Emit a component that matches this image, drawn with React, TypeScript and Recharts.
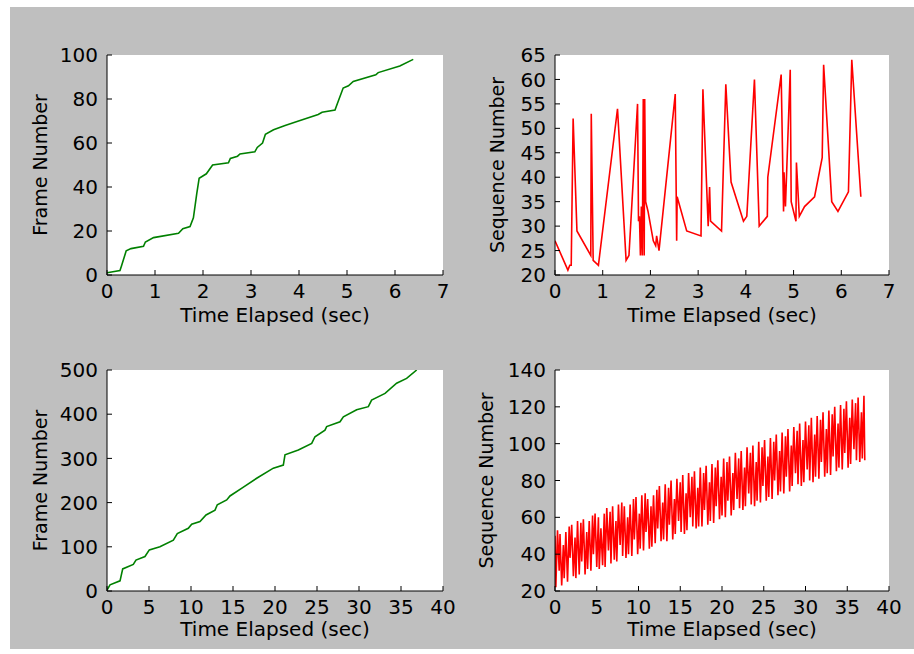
import { CartesianGrid, Line, LineChart, XAxis, YAxis } from "recharts";

// 100 samples: time of arrival (sec) vs frame number
const frame100Time = [0, 0.27, 0.3, 0.4, 0.5, 0.76, 0.8, 0.97, 1.49, 1.58, 1.73, 1.8, 1.87, 1.92, 2.07, 2.2, 2.53, 2.57, 2.72, 2.77, 3.08, 3.13, 3.24, 3.3, 3.47, 3.71, 3.99, 4.4, 4.48, 4.75, 4.8, 4.92, 5.03, 5.13, 5.6, 5.65, 6.1, 6.38];
const frame100Value = [1, 2, 4, 11, 12, 13, 15, 17, 19, 21, 22, 26, 37, 44, 46, 50, 51, 53, 54, 55, 56, 58, 60, 64, 66, 68, 70, 73, 74, 75, 78, 85, 86, 88, 91, 92, 95, 98];

// 100 samples: time vs sequence number
const seq100Time = [0, 0.27, 0.31, 0.34, 0.38, 0.46, 0.75, 0.76, 0.8, 0.91, 1.31, 1.49, 1.55, 1.73, 1.75, 1.77, 1.79, 1.81, 1.83, 1.85, 1.87, 1.88, 1.9, 1.95, 2.06, 2.11, 2.13, 2.18, 2.52, 2.55, 2.56, 2.76, 3.06, 3.1, 3.21, 3.24, 3.26, 3.49, 3.58, 3.69, 3.95, 4.02, 4.18, 4.28, 4.45, 4.46, 4.74, 4.79, 4.8, 4.83, 4.93, 4.95, 5.05, 5.06, 5.12, 5.23, 5.44, 5.6, 5.63, 5.8, 5.93, 6.15, 6.22, 6.41];
const seq100Value = [27, 21, 22, 22, 52, 29, 24, 53, 23, 22, 54, 23, 24, 55, 31, 32, 24, 34, 24, 56, 24, 56, 35, 33, 27, 26, 28, 25, 57, 27, 36, 29, 28, 58, 30, 38, 31, 29, 59, 39, 31, 32, 60, 30, 32, 40, 61, 33, 41, 34, 62, 35, 31, 43, 32, 34, 36, 44, 63, 35, 33, 37, 64, 36];

// 500 samples: time vs frame number
const frame500Time = [0, 0.36, 1.55, 1.87, 3.13, 3.45, 4.52, 5.04, 6.3, 7.9, 8.37, 9.68, 10.08, 11.07, 11.79, 12.86, 13.13, 14.25, 14.64, 16.15, 17.82, 19.8, 20.99, 21.19, 22.78, 24.37, 24.76, 25.95, 26.15, 27.74, 28.14, 29.72, 31.11, 31.5, 33.1, 34.48, 35.67, 36.87];
const frame500Value = [2, 14, 23, 50, 60, 70, 78, 93, 100, 115, 130, 142, 151, 157, 172, 183, 195, 206, 215, 234, 255, 278, 285, 308, 319, 334, 349, 364, 372, 383, 394, 410, 417, 432, 447, 470, 481, 500];

// 500 samples: time vs sequence number
const seq500Time = [
  0.0, 0.1, 0.3, 0.5, 0.6, 0.8, 1.0, 1.1, 1.3, 1.5, 1.7, 1.8, 2.0, 2.2, 2.4, 2.5, 2.7, 2.9, 3.1, 3.2,
  3.4, 3.6, 3.8, 3.9, 4.1, 4.3, 4.5, 4.6, 4.8, 5.0, 5.2, 5.3, 5.5, 5.7, 5.9, 6.0, 6.2, 6.4, 6.6, 6.7,
  6.9, 7.1, 7.3, 7.4, 7.6, 7.8, 8.0, 8.1, 8.3, 8.5, 8.7, 8.8, 9.0, 9.2, 9.4, 9.5, 9.7, 9.9, 10.1, 10.2,
  10.4, 10.6, 10.8, 10.9, 11.1, 11.3, 11.5, 11.6, 11.8, 12.0, 12.2, 12.3, 12.5, 12.7, 12.9, 13.0, 13.2, 13.4, 13.6, 13.7,
  13.9, 14.1, 14.3, 14.4, 14.6, 14.8, 15.0, 15.1, 15.3, 15.5, 15.7, 15.8, 16.0, 16.2, 16.4, 16.5, 16.7, 16.9, 17.1, 17.2,
  17.4, 17.6, 17.8, 17.9, 18.1, 18.3, 18.5, 18.6, 18.8, 19.0, 19.2, 19.3, 19.5, 19.7, 19.9, 20.0, 20.2, 20.4, 20.6, 20.7,
  20.9, 21.1, 21.3, 21.4, 21.6, 21.8, 22.0, 22.1, 22.3, 22.5, 22.7, 22.8, 23.0, 23.2, 23.4, 23.5, 23.7, 23.9, 24.1, 24.2,
  24.4, 24.6, 24.8, 24.9, 25.1, 25.3, 25.5, 25.6, 25.8, 26.0, 26.2, 26.3, 26.5, 26.7, 26.9, 27.0, 27.2, 27.4, 27.6, 27.7,
  27.9, 28.1, 28.3, 28.4, 28.6, 28.8, 29.0, 29.1, 29.3, 29.5, 29.7, 29.8, 30.0, 30.2, 30.4, 30.5, 30.7, 30.9, 31.1, 31.2,
  31.4, 31.6, 31.8, 31.9, 32.1, 32.3, 32.5, 32.6, 32.8, 33.0, 33.2, 33.3, 33.5, 33.7, 33.9, 34.0, 34.2, 34.4, 34.6, 34.7,
  34.9, 35.1, 35.3, 35.4, 35.6, 35.8, 36.0, 36.1, 36.3, 36.5, 36.7, 36.8, 37.0, 37.1,
];
const seq500Value = [
  50, 22, 53, 31, 51, 23, 45, 27, 52, 25, 55, 38, 56, 28, 49, 27, 58, 29, 57, 36,
  59, 29, 52, 32, 58, 31, 61, 40, 62, 33, 60, 32, 54, 34, 62, 33, 65, 42, 63, 35,
  66, 37, 58, 36, 67, 45, 68, 39, 66, 38, 60, 40, 67, 39, 70, 48, 71, 40, 62, 43,
  72, 42, 73, 52, 70, 43, 66, 44, 72, 46, 75, 54, 77, 47, 68, 48, 78, 47, 76, 56,
  80, 48, 70, 51, 81, 58, 79, 52, 83, 51, 73, 53, 84, 60, 82, 55, 85, 54, 76, 55,
  87, 55, 84, 64, 88, 56, 79, 58, 89, 57, 87, 66, 91, 59, 82, 61, 92, 60, 90, 69,
  93, 61, 84, 64, 95, 70, 92, 65, 96, 64, 87, 66, 98, 73, 95, 67, 99, 66, 90, 69,
  101, 68, 98, 77, 102, 69, 93, 71, 103, 70, 101, 80, 105, 72, 96, 74, 106, 73, 104, 82,
  108, 74, 99, 77, 109, 84, 107, 78, 111, 77, 102, 79, 112, 86, 110, 80, 114, 79, 105, 82,
  115, 81, 113, 90, 117, 82, 108, 84, 118, 83, 116, 93, 120, 85, 111, 87, 121, 86, 119, 95,
  123, 87, 114, 89, 124, 97, 122, 91, 125, 90, 117, 92, 126, 91,
];

const xTicks100 = [0, 1, 2, 3, 4, 5, 6, 7];
const frameTicks100 = [0, 20, 40, 60, 80, 100];
const seqTicks100 = [20, 25, 30, 35, 40, 45, 50, 55, 60, 65];
const xTicks500 = [0, 5, 10, 15, 20, 25, 30, 35, 40];
const frameTicks500 = [0, 100, 200, 300, 400, 500];
const seqTicks500 = [20, 40, 60, 80, 100, 120, 140];

const toPoints = (ts: number[], vs: number[]) => ts.map((t, i) => ({ t, v: vs[i] }));

const PAD_L = 100;
const PAD_R = 20;
const PAD_T = 50;
const PAD_B = 62;
const FONT = 20;

type SubplotProps = {
  left: number;
  top: number;
  width: number;
  height: number;
  title: string;
  yLabel: string;
  yLabelX: number;
  xLabelOffset: number;
  data: { t: number; v: number }[];
  color: string;
  xTicks: number[];
  yTicks: number[];
};

function Subplot(p: SubplotProps) {
  const xDomain: [number, number] = [p.xTicks[0], p.xTicks[p.xTicks.length - 1]];
  const yDomain: [number, number] = [p.yTicks[0], p.yTicks[p.yTicks.length - 1]];
  const tickStyle = { fill: "#000", fontSize: FONT };
  return (
    <div style={{ position: "absolute", left: p.left - PAD_L, top: p.top - PAD_T }}>
      <LineChart
        width={PAD_L + p.width + PAD_R}
        height={PAD_T + p.height + PAD_B}
        data={p.data}
        margin={{ top: PAD_T, right: PAD_R, bottom: 0, left: 0 }}
      >
        <CartesianGrid horizontal={false} vertical={false} fill="#ffffff" />
        <XAxis
          type="number"
          dataKey="t"
          domain={xDomain}
          ticks={p.xTicks}
          allowDataOverflow
          interval={0}
          height={PAD_B}
          tickSize={-5}
          tickMargin={14}
          stroke="#000"
          tick={tickStyle}
          label={{ value: "Time Elapsed (sec)", position: "insideBottom", offset: p.xLabelOffset, fill: "#000", fontSize: FONT }}
        />
        <XAxis
          xAxisId="top"
          orientation="top"
          type="number"
          dataKey="t"
          domain={xDomain}
          ticks={p.xTicks}
          allowDataOverflow
          interval={0}
          height={0}
          tickSize={-5}
          tick={false}
          stroke="#000"
          label={{ value: p.title, position: "top", offset: 7, fill: "#000", fontSize: FONT }}
        />
        <YAxis
          type="number"
          domain={yDomain}
          ticks={p.yTicks}
          allowDataOverflow
          interval={0}
          width={PAD_L}
          tickSize={-5}
          tickMargin={14}
          stroke="#000"
          tick={tickStyle}
          label={{
            value: p.yLabel,
            angle: -90,
            position: "insideLeft",
            offset: p.yLabelX - (p.left - PAD_L),
            fill: "#000",
            fontSize: 19,
            style: { textAnchor: "middle" },
          }}
        />
        <YAxis
          yAxisId="right"
          orientation="right"
          type="number"
          domain={yDomain}
          ticks={p.yTicks}
          allowDataOverflow
          interval={0}
          width={0}
          tickSize={-5}
          tick={false}
          stroke="#000"
        />
        <Line
          type="linear"
          dataKey="v"
          stroke={p.color}
          strokeWidth={1.6}
          dot={false}
          isAnimationActive={false}
        />
      </LineChart>
    </div>
  );
}

export default function App() {
  return (
    <div
      style={{
        position: "absolute",
        left: 0,
        top: 0,
        width: 914,
        height: 654,
        background: "#ffffff",
        fontFamily: "'DejaVu Sans', sans-serif",
      }}
    >
      <div style={{ position: "absolute", left: 10, top: 7, width: 904, height: 642, background: "#bfbfbf" }} />
      <Subplot
        left={107}
        top={55}
        width={336}
        height={220}
        title="100 Samples"
        yLabel="Frame Number"
        yLabelX={40}
        xLabelOffset={15}
        data={toPoints(frame100Time, frame100Value)}
        color="#008000"
        xTicks={xTicks100}
        yTicks={frameTicks100}
      />
      <Subplot
        left={555}
        top={55}
        width={334}
        height={220}
        title="100 Samples"
        yLabel="Sequence Number"
        yLabelX={497}
        xLabelOffset={15}
        data={toPoints(seq100Time, seq100Value)}
        color="#ff0000"
        xTicks={xTicks100}
        yTicks={seqTicks100}
      />
      <Subplot
        left={107}
        top={370}
        width={336}
        height={221}
        title="500 Samples"
        yLabel="Frame Number"
        yLabelX={40}
        xLabelOffset={17}
        data={toPoints(frame500Time, frame500Value)}
        color="#008000"
        xTicks={xTicks500}
        yTicks={frameTicks500}
      />
      <Subplot
        left={555}
        top={370}
        width={334}
        height={221}
        title="500 Samples"
        yLabel="Sequence Number"
        yLabelX={486}
        xLabelOffset={17}
        data={toPoints(seq500Time, seq500Value)}
        color="#ff0000"
        xTicks={xTicks500}
        yTicks={seqTicks500}
      />
    </div>
  );
}
